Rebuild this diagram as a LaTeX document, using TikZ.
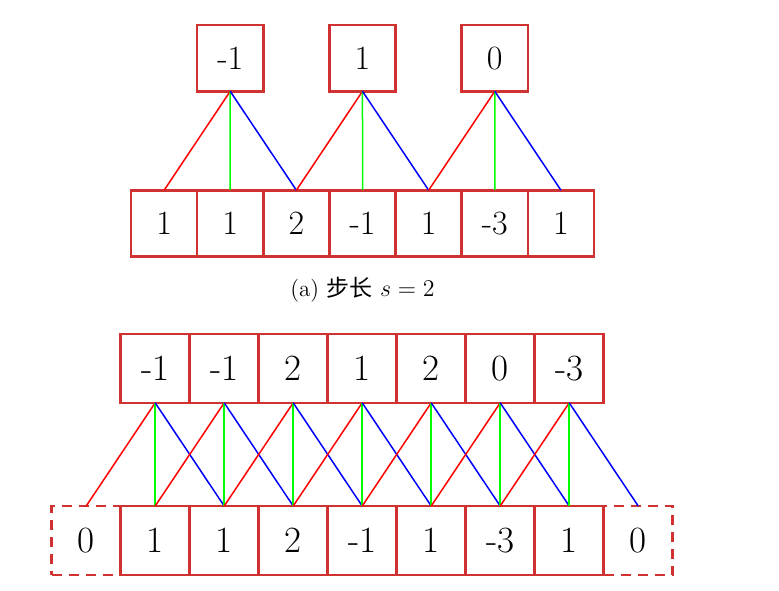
\documentclass[tikz,border=0pt]{standalone}
\usepackage{fontspec}
\newfontfamily\cjk{Noto Sans CJK SC}
\usetikzlibrary{positioning}
\definecolor{boxred}{HTML}{D03232}
\definecolor{linkgreen}{HTML}{00FF00}

\tikzset{
  cell/.style={draw=boxred, line width=1.3pt, minimum size=33.07pt, inner sep=0pt, outer sep=0pt, font=\fontsize{17}{17}\selectfont},
  bigcell/.style={cell, minimum size=34.5pt, font=\fontsize{18.5}{18.5}\selectfont},
  padcell/.style={bigcell, dash pattern=on 5pt off 3.5pt},
  link/.style={line width=0.75pt}
}

\begin{document}
\begin{tikzpicture}[x=0.5pt, y=-0.5pt]
	\useasboundingbox (0,0) rectangle (779,590);
	% (a) stride 2
	\foreach \v [count=\i] in {1,1,2,-1,1,-3,1}
		\node[cell] (a\i) at ({164.1+66.14*(\i-1)},223.3) {\v};
	\foreach \v [count=\i] in {-1,1,0}
		\node[cell] (t\i) at ({230.2+132.28*(\i-1)},58.2) {\v};
	\foreach \i in {1,2,3}{
		\pgfmathtruncatemacro\l{2*\i-1}
		\pgfmathtruncatemacro\m{2*\i}
		\pgfmathtruncatemacro\r{2*\i+1}
		\draw[link, red] (t\i.south) -- (a\l.north);
		\draw[link, linkgreen] (t\i.south) -- (a\m.north);
		\draw[link, blue] (t\i.south) -- (a\r.north);
	}
	\node[font=\fontsize{11.5}{12}\selectfont] (capa) at (362.5,290) {(a) {\cjk 步长} $s=2$};
	% (b) stride 1 with padding
	\node[padcell] (b0) at (86.2,540.5) {0};
	\node[padcell] (b8) at (638.2,540.5) {0};
	\foreach \v [count=\i] in {1,1,2,-1,1,-3,1}
		\node[bigcell] (b\i) at ({155.2+69*(\i-1)},540.5) {\v};
	\foreach \v [count=\i] in {-1,-1,2,1,2,0,-3}
		\node[bigcell] (u\i) at ({155.2+69*(\i-1)},368.3) {\v};
	\foreach \i in {1,...,7}{
		\pgfmathtruncatemacro\l{\i-1}
		\pgfmathtruncatemacro\r{\i+1}
		\draw[link, red] (u\i.south) -- (b\l.north);
		\draw[link, linkgreen] (u\i.south) -- (b\i.north);
		\draw[link, blue] (u\i.south) -- (b\r.north);
	}
\end{tikzpicture}
\end{document}
